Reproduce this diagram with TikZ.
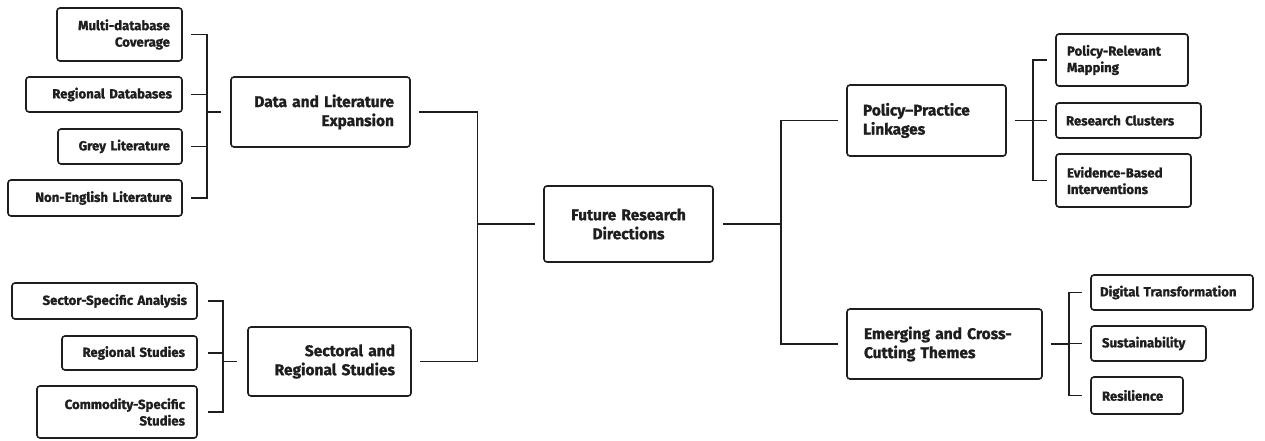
\documentclass[tikz,border=0pt]{standalone}
\usepackage{fontspec}
\setmainfont{Fira Sans}[BoldFeatures={FakeBold=1.2}]
\usetikzlibrary{calc}
\definecolor{ink}{HTML}{1E1E1E}
\tikzset{
  bx/.style={draw=ink, text=ink, rounded corners=3pt, line width=1.6pt, inner ysep=0pt},
  small/.style={font=\fontsize{13.2}{16.5}\selectfont\bfseries},
  big/.style={font=\fontsize{15.5}{19}\selectfont\bfseries},
  % args: width, height, padding
  rbox/.style n args={3}{bx, minimum width=#1, minimum height=#2, inner xsep=#3, text width=#1-2*#3, align=right},
  lbox/.style n args={3}{bx, minimum width=#1, minimum height=#2, inner xsep=#3, text width=#1-2*#3, align=left},
  cbox/.style n args={3}{bx, minimum width=#1, minimum height=#2, inner xsep=#3, text width=#1-2*#3, align=center},
  conn/.style={draw=ink, line width=1.4pt}
}
\begin{document}
\begin{tikzpicture}[x=1pt,y=-1pt]
\useasboundingbox[fill=white] (0,0) rectangle (1265,441);
% left top group
\node[rbox={125}{53}{12}, small] (L1) at (119.5,34.5) {Multi-database\\Coverage};
\node[rbox={156}{35}{10}, small] (L2) at (104,94.5) {Regional Databases};
\node[rbox={124}{35}{12}, small] (L3) at (120,146.5) {Grey Literature};
\node[rbox={174}{36}{10}, small] (L4) at (95,198) {Non-English Literature};
\node[rbox={179}{70}{16}, big] (D) at (320.5,112) {Data and Literature\\Expansion};
% left bottom group
\node[rbox={185}{36}{10}, small] (S1) at (104.5,301) {Sector-Specific Analysis};
\node[rbox={135}{34}{12}, small] (S2) at (129.5,353) {Regional Studies};
\node[rbox={160}{52}{12}, small] (S3) at (117,412) {Commodity-Specific\\Studies};
\node[rbox={163}{69}{16}, big] (S) at (329.5,361.5) {Sectoral and\\Regional Studies};
% center
\node[cbox={169}{76}{8}, big] (C) at (628.5,224) {Future Research\\Directions};
% right top group
\node[lbox={159}{71}{16}, big] (P) at (926.5,120.5) {Policy--Practice\\Linkages};
\node[lbox={132}{52}{11}, small] (P1) at (1122,60) {Policy-Relevant\\Mapping};
\node[lbox={145}{35}{10}, small] (P2) at (1128.5,120.5) {Research Clusters};
\node[lbox={135}{53}{11}, small] (P3) at (1123.5,180.5) {Evidence-Based\\Interventions};
% right bottom group
\node[lbox={195}{70}{17}, big] (E) at (944.5,344) {Emerging and Cross-\\Cutting Themes};
\node[lbox={162}{35}{9}, small] (E1) at (1172,292.5) {Digital Transformation};
\node[lbox={115}{35}{11}, small] (E2) at (1148.5,343.5) {Sustainability};
\node[lbox={92}{37}{11}, small] (E3) at (1137,395.5) {Resilience};
% connectors left top
\foreach \n in {L1,L2,L3,L4}
  \draw[conn] ([xshift=8pt]\n.east) -- ++(16,0) |- ([xshift=-9pt]D.west);
% connectors left bottom
\foreach \n in {S1,S2,S3}
  \draw[conn] ([xshift=10pt]\n.east) -- ++(15,0) |- ([xshift=-10pt]S.west);
% to center
\draw[conn] ([xshift=8pt]D.east) -| ($(C.west)+(-66,0)$) -- ([xshift=-8pt]C.west);
\draw[conn] ([xshift=8pt]S.east) -| ($(C.west)+(-66,0)$);
% from center
\draw[conn] ([xshift=9pt]C.east) -- ++(58,0) |- ([xshift=-8pt]P.west);
\draw[conn] ([xshift=9pt]C.east) -- ++(58,0) |- ([xshift=-8pt]E.west);
% right top
\foreach \n in {P1,P2,P3}
  \draw[conn] ([xshift=8pt]P.east) -- ++(18,0) |- ([xshift=-8pt]\n.west);
% right bottom
\foreach \n in {E1,E2,E3}
  \draw[conn] ([xshift=8pt]E.east) -- ++(18,0) |- ([xshift=-8pt]\n.west);
\end{tikzpicture}
\end{document}
